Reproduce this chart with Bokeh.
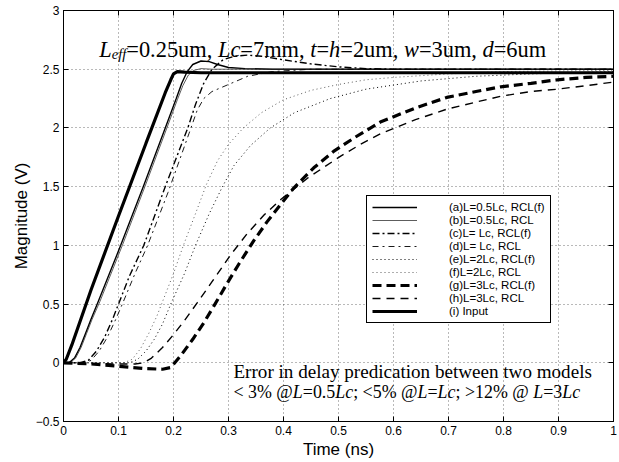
from bokeh.plotting import figure
from bokeh.models import Range1d, LinearAxis, FixedTicker, Label, Legend, LegendItem
from bokeh.embed import file_html
from bokeh.resources import INLINE

# ---------------- data ----------------
x_ticks = [0, 0.1, 0.2, 0.3, 0.4, 0.5, 0.6, 0.7, 0.8, 0.9, 1]
x_tick_labels = ["0", "0.1", "0.2", "0.3", "0.4", "0.5", "0.6", "0.7", "0.8", "0.9", "1"]
y_ticks = [-0.5, 0, 0.5, 1, 1.5, 2, 2.5, 3]
y_tick_labels = ["\u22120.5", "0", "0.5", "1", "1.5", "2", "2.5", "3"]

# (a) L=0.5Lc, RCL(f)
t_a = [0, 0.01, 0.02, 0.03, 0.04, 0.05, 0.063, 0.104, 0.145, 0.185, 0.205, 0.215, 0.225, 0.235, 0.25, 0.265, 0.28, 0.3, 0.33, 0.38, 1.0]
v_a = [0, 0.0, 0.04, 0.13, 0.25, 0.37, 0.52, 1.0, 1.5, 2.0, 2.25, 2.38, 2.48, 2.54, 2.57, 2.565, 2.54, 2.515, 2.505, 2.5, 2.5]
# (b) L=0.5Lc, RCL
t_b = [0, 0.012, 0.022, 0.032, 0.042, 0.052, 0.066, 0.107, 0.148, 0.188, 0.207, 0.217, 0.227, 0.237, 0.25, 0.27, 0.3, 1.0]
v_b = [0, 0.0, 0.04, 0.13, 0.25, 0.37, 0.52, 1.0, 1.5, 2.0, 2.24, 2.36, 2.45, 2.49, 2.505, 2.5, 2.5, 2.5]
# (c) L=Lc, RCL(f)
t_c = [0, 0.03, 0.045, 0.06, 0.075, 0.09, 0.1, 0.12, 0.146, 0.185, 0.226, 0.24, 0.255, 0.27, 0.29, 0.31, 0.335, 0.36, 0.4, 0.45, 0.5, 0.55, 0.6, 1.0]
v_c = [0, 0.0, 0.02, 0.1, 0.22, 0.38, 0.5, 0.74, 1.0, 1.5, 2.0, 2.2, 2.38, 2.5, 2.58, 2.61, 2.62, 2.61, 2.58, 2.545, 2.52, 2.505, 2.5, 2.5]
# (d) L=Lc, RCL
t_d = [0, 0.035, 0.05, 0.065, 0.08, 0.095, 0.107, 0.13, 0.153, 0.19, 0.228, 0.243, 0.255, 0.27, 0.3, 0.335, 0.38, 0.45, 1.0]
v_d = [0, 0.0, 0.02, 0.1, 0.22, 0.37, 0.5, 0.76, 1.0, 1.45, 1.95, 2.15, 2.25, 2.31, 2.37, 2.44, 2.48, 2.5, 2.5]
# (e) L=2Lc, RCL(f)
t_e = [0, 0.12, 0.135, 0.15, 0.165, 0.18, 0.195, 0.22, 0.24, 0.265, 0.289, 0.31, 0.34, 0.376, 0.42, 0.485, 0.55, 0.65, 0.75, 0.85, 1.0]
v_e = [0, 0.0, 0.03, 0.1, 0.2, 0.33, 0.5, 0.76, 1.0, 1.27, 1.5, 1.68, 1.85, 2.0, 2.13, 2.25, 2.33, 2.4, 2.44, 2.46, 2.48]
# (f) L=2Lc, RCL
t_f = [0, 0.11, 0.125, 0.14, 0.155, 0.17, 0.18, 0.2, 0.218, 0.24, 0.26, 0.28, 0.3, 0.327, 0.36, 0.4, 0.45, 0.5, 0.55, 0.6, 0.7, 0.8, 1.0]
v_f = [0, 0.0, 0.03, 0.12, 0.25, 0.4, 0.52, 0.76, 1.0, 1.27, 1.52, 1.72, 1.86, 2.0, 2.13, 2.24, 2.32, 2.37, 2.41, 2.43, 2.46, 2.48, 2.49]
# (g) L=3Lc, RCL(f)
t_g = [0, 0.05, 0.1, 0.15, 0.18, 0.195, 0.213, 0.235, 0.255, 0.273, 0.298, 0.32, 0.346, 0.37, 0.395, 0.419, 0.455, 0.491, 0.53, 0.576, 0.64, 0.697, 0.75, 0.795, 0.85, 0.898, 0.95, 1.0]
v_g = [0, -0.01, -0.03, -0.05, -0.055, -0.04, 0.06, 0.2, 0.34, 0.48, 0.68, 0.85, 1.04, 1.2, 1.35, 1.49, 1.66, 1.8, 1.92, 2.05, 2.17, 2.26, 2.31, 2.35, 2.38, 2.41, 2.43, 2.44]
# (h) L=3Lc, RCL
t_h = [0, 0.1, 0.13, 0.146, 0.16, 0.18, 0.2, 0.22, 0.243, 0.273, 0.304, 0.334, 0.365, 0.395, 0.443, 0.504, 0.54, 0.576, 0.64, 0.697, 0.75, 0.795, 0.85, 0.898, 0.95, 1.0]
v_h = [0, -0.01, -0.01, 0.0, 0.04, 0.13, 0.24, 0.36, 0.51, 0.71, 0.92, 1.1, 1.26, 1.39, 1.57, 1.76, 1.86, 1.95, 2.07, 2.16, 2.22, 2.27, 2.31, 2.33, 2.36, 2.39]
# (i) Input
t_i = [0, 0.005, 0.015, 0.05, 0.1, 0.15, 0.185, 0.195, 0.2, 0.207, 0.22, 0.25, 1.0]
v_i = [0, 0.03, 0.15, 0.62, 1.25, 1.87, 2.3, 2.41, 2.46, 2.48, 2.475, 2.47, 2.47]

labels = ["(a)L=0.5Lc, RCL(f)", "(b)L=0.5Lc, RCL", "(c)L= Lc, RCL(f)", "(d)L= Lc, RCL",
          "(e)L=2Lc, RCL(f)", "(f)L=2Lc, RCL", "(g)L=3Lc, RCL(f)", "(h)L=3Lc, RCL", "(i) Input"]

# ---------------- figure ----------------
p = figure(frame_width=550, frame_height=411,
           x_range=Range1d(0, 1), y_range=Range1d(-0.5, 3),
           output_backend="svg", toolbar_location=None,
           min_border_left=63, min_border_right=6, min_border_top=10, min_border_bottom=40,
           background_fill_color="white", border_fill_color="white")
p.outline_line_color = "black"
p.outline_line_width = 1
p.outline_line_alpha = 1

SANS = "Liberation Sans"
SERIF = "Liberation Serif"

p.xaxis.ticker = FixedTicker(ticks=x_ticks)
p.xaxis.major_label_overrides = dict(zip(x_ticks, x_tick_labels))
p.yaxis.ticker = FixedTicker(ticks=y_ticks)
p.yaxis.major_label_overrides = dict(zip(y_ticks, y_tick_labels))
for ax in (p.xaxis[0], p.yaxis[0]):
    ax.major_tick_in = 5
    ax.major_tick_out = 0
    ax.minor_tick_line_color = None
    ax.axis_line_color = "black"
    ax.major_tick_line_color = "black"
    ax.major_label_text_font = SANS
    ax.major_label_text_font_size = "12px"
    ax.major_label_text_color = "black"
    ax.major_label_standoff = 4
    ax.axis_label_text_font = SANS
    ax.axis_label_text_font_size = "17px"
    ax.axis_label_text_font_style = "normal"
    ax.axis_label_text_color = "black"
    ax.axis_label_standoff = 2
p.xaxis.axis_label = "Time (ns)"
p.yaxis.axis_label = "Magnitude (V)"

# box axes (top / right) with inward ticks and no labels
top_ax = LinearAxis(ticker=FixedTicker(ticks=x_ticks), major_label_text_font_size="1px",
                    major_label_text_color=None, major_label_standoff=0,
                    major_tick_in=5, major_tick_out=0,
                    minor_tick_line_color=None, axis_line_color="black")
right_ax = LinearAxis(ticker=FixedTicker(ticks=y_ticks), major_label_text_font_size="1px",
                      major_label_text_color=None, major_label_standoff=0,
                      major_tick_in=5, major_tick_out=0,
                      minor_tick_line_color=None, axis_line_color="black")
p.add_layout(top_ax, "above")
p.add_layout(right_ax, "right")

p.xgrid.ticker = FixedTicker(ticks=x_ticks)
p.ygrid.ticker = FixedTicker(ticks=y_ticks)
for g in (p.xgrid[0], p.ygrid[0]):
    g.grid_line_color = "black"
    g.grid_line_dash = "1 3"
    g.grid_line_alpha = 0.55
    g.grid_line_width = 1

# ---------------- curves ----------------
r_a = p.line(t_a, v_a, line_color="black", line_width=1.4)
r_b = p.line(t_b, v_b, line_color="#333333", line_width=0.8)
r_c = p.line(t_c, v_c, line_color="black", line_width=1.4, line_dash="7 3 2 3")
r_d = p.line(t_d, v_d, line_color="black", line_width=0.9, line_dash="6 4 2 4")
r_e = p.line(t_e, v_e, line_color="black", line_width=1.0, line_dash="1 3")
r_f = p.line(t_f, v_f, line_color="#333333", line_width=0.8, line_dash="1 3")
r_g = p.line(t_g, v_g, line_color="black", line_width=3.2, line_dash="9 5")
r_h = p.line(t_h, v_h, line_color="black", line_width=1.4, line_dash="8 6")
r_i = p.line(t_i, v_i, line_color="black", line_width=3.2)

rs = [r_a, r_b, r_c, r_d, r_e, r_f, r_g, r_h, r_i]
legend = Legend(items=[LegendItem(label=l, renderers=[r]) for l, r in zip(labels, rs)],
                location=(303, 98), orientation="vertical",
                glyph_width=45, glyph_height=12, label_height=12, spacing=1,
                padding=5, margin=0, label_standoff=32,
                label_text_font=SANS, label_text_font_size="11.5px", label_text_color="black",
                border_line_color="black", border_line_width=1, border_line_alpha=1,
                background_fill_color="white", background_fill_alpha=1)
p.add_layout(legend)

# ---------------- rich text annotations ----------------
TR = {' ': 250, '.': 250, ',': 250, '=': 564, 'u': 500, 'm': 778, '<': 564, '>': 564,
      '%': 833, '@': 921, ';': 278, 'E': 611, 'r': 333, 'o': 500, 'i': 278, 'n': 500,
      'd': 500, 'e': 444, 'l': 278, 'a': 444, 'y': 500, 'p': 500, 'c': 444, 't': 278,
      'b': 500, 'w': 722, 's': 389}
TI = {'L': 556, 'c': 444, 'e': 444, 'f': 278, 't': 278, 'h': 500, 'w': 667, 'd': 500}


def text_width(s, style, size):
    table = TI if style == "italic" else TR
    return sum(table.get(ch, 500) for ch in s) * size / 1000.0


def rich_text(x, y, pieces, size):
    off = 0.0
    for txt, style, sub in pieces:
        fs = size * 0.65 if sub else size
        p.add_layout(Label(x=x, y=y, x_offset=off, y_offset=(-5 if sub else 0), text=txt,
                           text_font=SERIF, text_font_style=style,
                           text_font_size=f"{fs:.1f}px", text_color="black",
                           text_baseline="alphabetic", text_align="left"))
        off += text_width(txt, style, fs)


N, I = "normal", "italic"
title_pieces = [("L", I, False), ("eff", I, True), ("=0.25um, ", N, False), ("Lc", I, False),
                ("=7mm, ", N, False), ("t", I, False), ("=", N, False), ("h", I, False),
                ("=2um, ", N, False), ("w", I, False), ("=3um, ", N, False), ("d", I, False),
                ("=6um", N, False)]
rich_text(0.065, 2.67, title_pieces, 22.4)

line1 = [("Error in delay predication between two models", N, False)]
line2 = [("< 3% @", N, False), ("L", I, False), ("=0.5", N, False), ("Lc", I, False),
         ("; <5% @", N, False), ("L", I, False), ("=", N, False), ("Lc", I, False),
         ("; >12% @ ", N, False), ("L", I, False), ("=3", N, False), ("Lc", I, False)]
rich_text(0.309, -0.078, line1, 19.1)
rich_text(0.309, -0.248, line2, 17.9)

open("out.html", "w").write(file_html(p, INLINE))
